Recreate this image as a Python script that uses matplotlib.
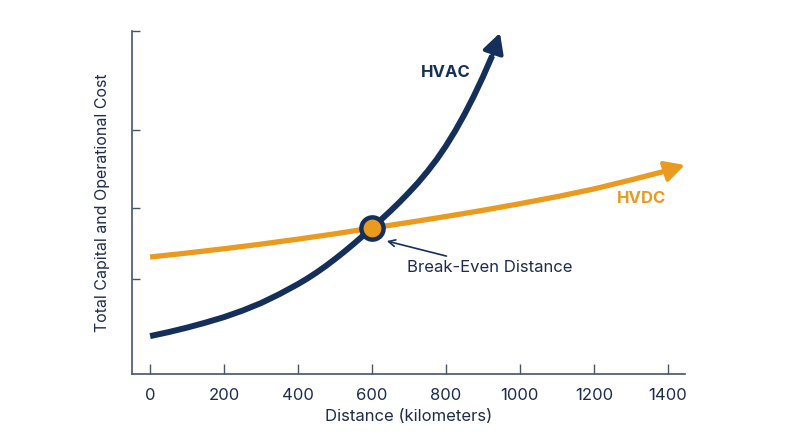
import matplotlib
matplotlib.use('Agg')
from matplotlib import pyplot as plt

# data (cost in arbitrary units)
hvac_km = [0, 50, 100, 150, 200, 250, 300, 350, 400, 425, 450, 475, 500, 525, 550, 575,
           600, 625, 650, 675, 700, 725, 750, 775, 800, 825, 850, 875, 900, 925, 946]
hvac_cost = [38, 42, 46.5, 51.5, 57, 63.5, 71, 80, 90, 95.5, 101.5, 108, 115, 122.3, 130, 138,
             146, 154.5, 163, 172, 181.5, 191.5, 202.5, 214.5, 228, 243, 259.5, 277.5, 297, 318, 341]

hvdc_km = [0, 100, 200, 300, 400, 500, 600, 700, 800, 900, 1000, 1100, 1200, 1300, 1400, 1446]
hvdc_cost = [117, 121, 125.3, 129.9, 134.9, 140.2, 146, 151.6, 157.5, 163.7, 170.3, 177.3, 185,
             194, 203.5, 209]

break_even_km = 600
break_even_cost = 146

x_ticks = [0, 200, 400, 600, 800, 1000, 1200, 1400]
y_ticks = [95, 166, 244, 343]

navy = '#14305A'
orange = '#E99A1F'
text_col = '#1E2C4C'
spine_col = '#46536B'

plt.rcParams['font.family'] = ['Inter', 'DejaVu Sans']

fig = plt.figure(figsize=(8, 4.47), dpi=100)
ax = fig.add_axes([0.165, 0.163, 0.691, 0.768])

# curves, stopping short of the tip so the arrowhead sits on the end
ax.plot(hvac_km[:-1], hvac_cost[:-1], color=navy, lw=4.3, solid_joinstyle='round',
        solid_capstyle='butt', zorder=3)
ax.plot(hvdc_km[:-1], hvdc_cost[:-1], color=orange, lw=3.8, solid_joinstyle='round',
        solid_capstyle='butt', zorder=2)

ax.annotate('', xy=(hvac_km[-1], hvac_cost[-1]), xytext=(hvac_km[-2], hvac_cost[-2]),
            arrowprops=dict(arrowstyle='-|>,head_length=0.85,head_width=0.45', color=navy,
                            lw=3.0, shrinkA=0, shrinkB=0, mutation_scale=14),
            annotation_clip=False, zorder=3)
ax.annotate('', xy=(hvdc_km[-1], hvdc_cost[-1]), xytext=(hvdc_km[-2], hvdc_cost[-2]),
            arrowprops=dict(arrowstyle='-|>,head_length=0.85,head_width=0.45', color=orange,
                            lw=3.0, shrinkA=0, shrinkB=0, mutation_scale=14),
            annotation_clip=False, zorder=2)

# break-even point
ax.plot([break_even_km], [break_even_cost], 'o', ms=16, mfc=orange, mec=navy, mew=3.2, zorder=4)
ax.annotate('Break-Even Distance', xy=(640, 133), xytext=(695, 107),
            fontsize=12, color=text_col, va='center', ha='left',
            arrowprops=dict(arrowstyle='->', color=navy, lw=1.2, shrinkA=2, shrinkB=0))

ax.text(800, 301, 'HVAC', color=navy, fontsize=12, fontweight='bold', ha='center', va='center')
ax.text(1330, 175, 'HVDC', color=orange, fontsize=12, fontweight='bold', ha='center', va='center')

ax.set_xlim(-49, 1446)
ax.set_ylim(0, 343)
ax.set_xticks(x_ticks)
ax.set_yticks(y_ticks)
ax.set_yticklabels([])
ax.tick_params(axis='x', direction='in', length=7, width=1, color=spine_col,
               labelsize=12, labelcolor=text_col, pad=10)
ax.tick_params(axis='y', direction='in', length=6, width=1, color=spine_col)

for s in ['top', 'right']:
    ax.spines[s].set_visible(False)
for s in ['left', 'bottom']:
    ax.spines[s].set_color(spine_col)
    ax.spines[s].set_linewidth(1.2)

ax.set_xlabel('Distance (kilometers)', fontsize=12, color=text_col, labelpad=4)
ax.set_ylabel('Total Capital and Operational Cost', fontsize=11.5, color=text_col, labelpad=12)

fig.savefig('out.png', dpi=100)
